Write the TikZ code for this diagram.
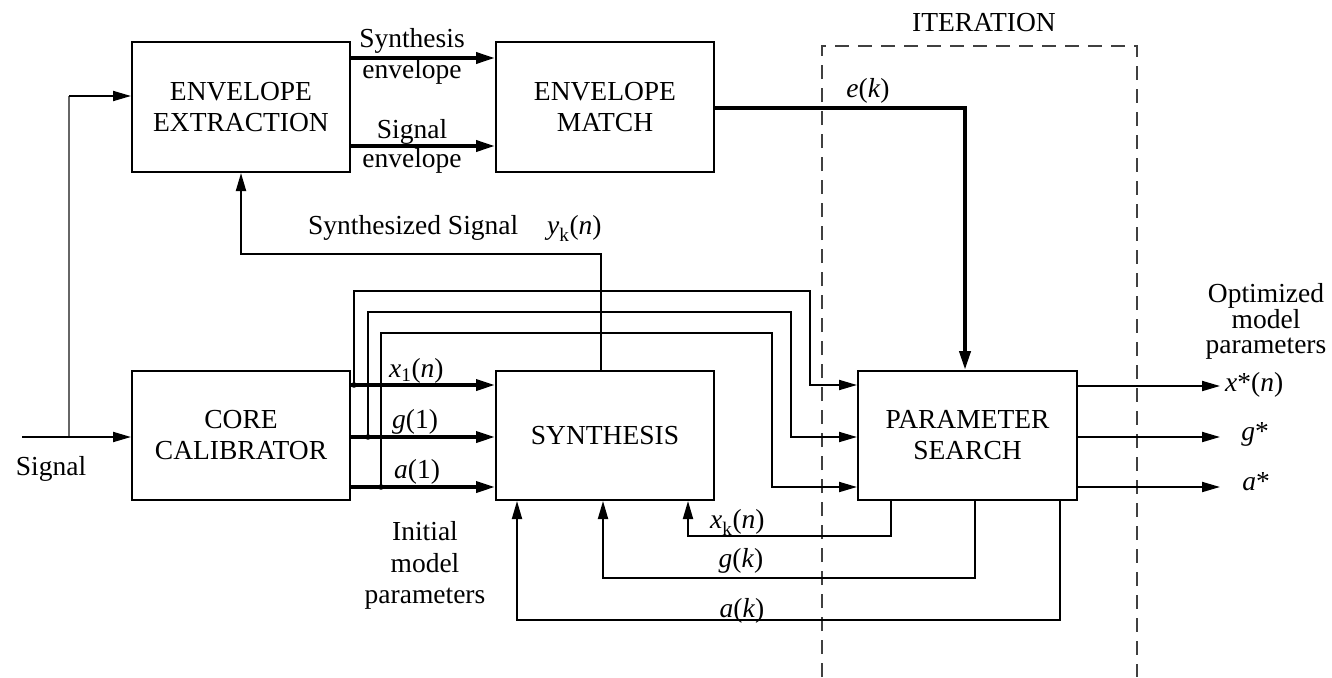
\documentclass[tikz,border=0pt]{standalone}
\usepackage{fontspec}
\setmainfont{Liberation Serif}
\usetikzlibrary{arrows.meta,calc}
\begin{document}
\begin{tikzpicture}[x=1pt,y=-1pt,
  box/.style={draw, line width=2pt, minimum width=218pt, minimum height=129pt, align=center, inner sep=0pt, font=\fontsize{27.5}{31}\selectfont},
  lbl/.style={font=\fontsize{27.5}{31}\selectfont, inner sep=0pt, anchor=base},
  conn/.style={line width=1.9pt, -{Triangle[length=18pt,width=10pt]}},
  bold/.style={line width=3.6pt, -{Triangle[length=19pt,width=11pt]}},
  dashbox/.style={line width=1.6pt, black!75, dash pattern=on 14pt off 9pt}
]
\fill[white] (0,0) rectangle (1332,677);
\useasboundingbox (0,0) rectangle (1332,677);

% boxes
\node[box, minimum height=130pt] (envext) at (241,107) {ENVELOPE\\EXTRACTION};
\node[box, minimum height=130pt] (envmatch) at (605,107) {ENVELOPE\\MATCH};
\node[box] (core) at (241,435.5) {CORE\\CALIBRATOR};
\node[box] (synth) at (605,435.5) {SYNTHESIS};
\node[box, minimum width=219pt] (param) at (967.5,435.5) {PARAMETER\\SEARCH};

% iteration frame
\draw[dashbox] (822,677) -- (822,46) -- (1137,46) -- (1137,677);
\node[lbl] (iter) at (984,32) {ITERATION};

% signal input
\coordinate (sigstart) at (22,437);
\coordinate (tap) at (69,437);
\coordinate (tapup) at (69,96);
\draw[line width=1.1pt, black!60] (tap) -- (tapup);
\draw[conn] (sigstart) -- (core.west |- sigstart);
\draw[conn] (tapup) -- (envext.west |- tapup);
\node[lbl] (siglbl) at (51,475) {Signal};

% envelope arrows
\draw[bold] (envext.east |- 0,58) -- (envmatch.west |- 0,58);
\draw[bold] (envext.east |- 0,146) -- (envmatch.west |- 0,146);
\node[lbl] (l1) at (412,48) {Synthesis};
\node[lbl] (l2) at (412,78) {envelope};
\node[lbl] (l3) at (412,138) {Signal};
\node[lbl] (l4) at (412,167) {envelope};

% synthesized signal feedback
\draw[conn] ([xshift=-4pt]synth.north) |- (envext.south |- 0,254) -- (envext.south);
\node[lbl, anchor=base west] (synlbl) at (308,234) {Synthesized Signal};
\node[lbl, anchor=base west] (yk) at (547,234) {\textit{y}\raisebox{-0.25ex}{\textsubscript{k}}(\textit{n})};

% e(k)
\draw[line width=4pt, -{Triangle[length=19pt,width=11pt]}] (envmatch.east |- 0,108) -| ([xshift=-2.5pt]param.north);
\node[lbl] (ek) at (868,97) {\textit{e}(\textit{k})};

% initial parameters
\coordinate (jx) at (354,385);
\coordinate (jg) at (368,437);
\coordinate (ja) at (381,487);
\draw[bold] (core.east |- jx) -- (synth.west |- jx);
\draw[bold] (core.east |- jg) -- (synth.west |- jg);
\draw[bold] (core.east |- ja) -- (synth.west |- ja);
\draw[conn] (jx) |- (810,291) |- (param.west |- jx);
\draw[conn] (jg) |- (791,312) |- (param.west |- jg);
\draw[conn] (ja) |- (772,333) |- (param.west |- ja);
\fill (jx) circle (2.8pt);
\fill (jg) circle (2.8pt);
\fill (ja) circle (2.8pt);
\node[lbl, anchor=base west] (x1) at (389,377) {\textit{x}\textsubscript{1}(\textit{n})};
\node[lbl, anchor=base west] (g1) at (392,428) {\textit{g}(1)};
\node[lbl, anchor=base west] (a1) at (394,478) {\textit{a}(1)};
\node[lbl] (ini1) at (425,540) {Initial};
\node[lbl] (ini2) at (425,572) {model};
\node[lbl] (ini3) at (425,603) {parameters};

% outputs
\coordinate (ox) at (1220,386);
\coordinate (og) at (1220,437);
\coordinate (oa) at (1220,487);
\draw[conn] (param.east |- ox) -- (ox);
\draw[conn] (param.east |- og) -- (og);
\draw[conn] (param.east |- oa) -- (oa);
\node[lbl, anchor=base west] (xs) at (1225,391) {\textit{x}*(\textit{n})};
\node[lbl] (gs) at (1255,440) {\textit{g}*};
\node[lbl] (as) at (1256,490) {\textit{a}*};
\node[lbl] (op1) at (1266,302) {Optimized};
\node[lbl] (op2) at (1266,328) {model};
\node[lbl] (op3) at (1266,353) {parameters};

% feedback from parameter search
\draw[conn] (param.south -| 891,0) -- (891,536) -| (synth.south -| 688,0);
\draw[conn] (param.south -| 975,0) -- (975,578) -| (synth.south -| 603,0);
\draw[conn] (param.south -| 1060,0) -- (1060,620) -| (synth.south -| 517,0);
\node[lbl, anchor=base west] (xk) at (710,528) {\textit{x}\raisebox{-0.25ex}{\textsubscript{k}}(\textit{n})};
\node[lbl] (gk) at (741,567) {\textit{g}(\textit{k})};
\node[lbl] (ak) at (742,617) {\textit{a}(\textit{k})};
\end{tikzpicture}
\end{document}
